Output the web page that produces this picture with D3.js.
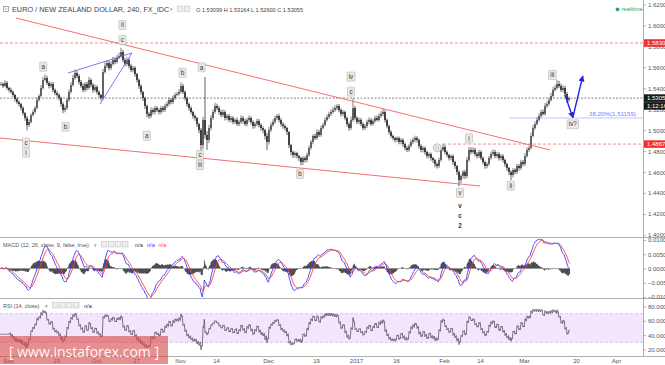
<!DOCTYPE html>
<html><head><meta charset="utf-8">
<script src="https://cdn.jsdelivr.net/npm/d3@7"></script>
<style>
html,body{margin:0;padding:0;background:#fff;overflow:hidden;}
svg{display:block;font-family:"Liberation Sans",Arial,sans-serif;}
</style></head><body>
<svg id="c" width="665" height="365"></svg>
<script>
// ---------- DATA ----------
const firstBarDate = "2016-08-30";   // first visible bar (half-day bars)
const barsPerDay = 2;
const closes = [
1.5440,1.5421,1.5450,1.5402,1.5383,1.5364,1.5335,1.5297,1.5268,1.5249,
1.5211,1.5163,1.5116,1.5049,1.5078,1.5144,1.5173,1.5211,1.5287,1.5326,
1.5402,1.5478,1.5497,1.5450,1.5421,1.5440,1.5383,1.5354,1.5335,1.5306,
1.5249,1.5192,1.5211,1.5287,1.5364,1.5430,1.5497,1.5545,1.5516,1.5459,
1.5421,1.5383,1.5440,1.5402,1.5478,1.5430,1.5383,1.5411,1.5364,1.5335,
1.5306,1.5554,1.5612,1.5640,1.5593,1.5631,1.5669,1.5650,1.5688,1.5707,
1.5745,1.5669,1.5631,1.5669,1.5612,1.5573,1.5593,1.5535,1.5478,1.5421,
1.5364,1.5306,1.5230,1.5154,1.5135,1.5192,1.5173,1.5211,1.5192,1.5173,
1.5211,1.5192,1.5230,1.5249,1.5287,1.5268,1.5306,1.5335,1.5345,1.5364,
1.5421,1.5364,1.5306,1.5249,1.5211,1.5173,1.5135,1.5116,1.5058,1.5001,
1.4858,1.5097,1.4954,1.4906,1.5020,1.5116,1.5173,1.5230,1.5211,1.5173,
1.5144,1.5173,1.5116,1.5135,1.5097,1.5116,1.5078,1.5097,1.5058,1.5078,
1.5116,1.5087,1.5058,1.5097,1.5116,1.5078,1.5039,1.5058,1.5087,1.5049,
1.5020,1.5001,1.4944,1.4887,1.5001,1.5049,1.5078,1.5116,1.5135,1.5097,
1.5058,1.5039,1.5020,1.4982,1.4858,1.4791,1.4763,1.4782,1.4753,1.4734,
1.4696,1.4734,1.4715,1.4763,1.4830,1.4887,1.4944,1.4925,1.4982,1.4954,
1.5020,1.5049,1.5097,1.5125,1.5154,1.5173,1.5192,1.5211,1.5230,1.5192,
1.5154,1.5173,1.5116,1.5058,1.5020,1.5097,1.5211,1.5116,1.5078,1.5097,
1.5058,1.5020,1.5039,1.5078,1.5097,1.5058,1.5087,1.5116,1.5097,1.5135,
1.5154,1.5173,1.5097,1.5039,1.4982,1.4944,1.4925,1.4906,1.4925,1.4887,
1.4906,1.4868,1.4830,1.4811,1.4849,1.4887,1.4906,1.4925,1.4906,1.4849,
1.4811,1.4830,1.4791,1.4753,1.4772,1.4734,1.4715,1.4677,1.4658,1.4715,
1.4811,1.4839,1.4791,1.4763,1.4734,1.4753,1.4696,1.4658,1.4601,1.4524,
1.4563,1.4601,1.4563,1.4715,1.4811,1.4791,1.4811,1.4772,1.4753,1.4791,
1.4734,1.4696,1.4658,1.4677,1.4734,1.4772,1.4791,1.4753,1.4772,1.4734,
1.4753,1.4715,1.4677,1.4639,1.4601,1.4572,1.4620,1.4601,1.4658,1.4639,
1.4696,1.4677,1.4753,1.4811,1.4830,1.4944,1.5020,1.5058,1.5097,1.5135,
1.5173,1.5154,1.5230,1.5249,1.5287,1.5326,1.5383,1.5402,1.5440,1.5421,
1.5383,1.5402,1.5345,1.5287,1.53055];
// upper / lower shadow of each bar, in pips
const wickUp = [
20,15,25,18,12,22,15,10,18,14, 12,16,10,20,25,15,22,18,24,16,
28,30,35,20,15,22,18,14,20,16, 12,18,24,20,25,30,28,35,22,18,
20,26,18,22,30,16,20,24,18,15, 12,30,35,28,20,26,30,22,28,32,
40,20,18,25,15,20,22,16,12,14, 15,12,10,14,18,25,20,22,18,16,
20,18,22,25,20,18,24,22,20,28, 35,20,15,12,14,16,12,15,10,12,
20,30,410,35,30,28,25,30,22,18, 20,24,16,18,22,20,18,16,24,20,
26,18,20,22,24,16,14,20,22,18, 16,14,12,30,28,24,26,22,18,20,
16,18,14,12,10,12,14,16,12,14, 12,18,16,22,24,20,18,22,26,20,
24,20,22,25,22,26,28,24,20,18, 16,20,14,12,18,30,95,20,16,22,
18,16,20,22,24,18,20,22,24,26, 28,30,18,14,12,16,14,12,16,14,
18,16,14,20,22,24,26,22,18,14, 16,18,14,12,16,14,12,10,14,20,
26,30,18,14,12,16,14,12,10,14, 16,18,20,28,30,24,26,20,18,22,
16,14,12,16,20,24,26,20,22,18, 20,16,14,12,10,14,18,16,20,18,
22,20,26,24,22,30,28,24,26,22, 20,24,28,26,24,30,28,26,40,30,
22,26,20,18,14];
const wickDn = [
15,20,12,18,22,16,20,24,18,22, 24,20,26,50,20,16,14,18,12,15,
14,16,12,20,24,18,22,20,16,24, 26,30,22,18,16,14,12,16,22,24,
18,22,20,24,16,22,26,18,24,22, 26,16,14,20,24,18,16,22,14,12,
16,24,22,18,24,20,22,26,24,28, 26,28,30,32,26,20,24,22,20,24,
22,20,18,16,20,22,18,16,14,16, 12,20,22,24,26,22,24,26,28,30,
80,40,35,95,30,22,18,16,20,24, 22,20,24,22,20,24,22,20,18,22,
20,22,18,20,22,24,26,22,20,24, 26,30,34,76,24,20,18,16,18,22,
24,26,24,28,30,32,28,26,24,30, 32,28,24,20,18,16,22,18,16,20,
18,16,14,16,18,20,16,18,20,22, 24,20,22,24,26,18,16,22,20,24,
22,20,18,20,22,18,16,18,14,16, 18,20,24,22,24,20,22,24,20,22,
24,26,22,20,18,16,20,22,24,26, 22,24,26,22,24,26,28,30,24,18,
16,14,20,22,24,22,26,28,30,60, 30,26,28,20,18,20,16,22,24,18,
20,24,26,22,18,16,18,22,20,24, 22,24,26,28,30,48,24,22,20,24,
20,22,18,16,20,14,12,16,14,18, 20,16,14,18,16,14,12,14,16,20,
18,22,24,26,20];

const timeTicks = ["2016-09-01","2016-09-19","2016-10-03","2016-10-17","2016-11-01","2016-11-14","2016-12-01","2016-12-19","2017-01-02","2017-01-16","2017-02-01","2017-02-14","2017-03-01","2017-03-20","2017-04-03"];
const timeTickLabels = ["Sep","19","Oct","17","Nov","14","Dec","19","2017","16","Feb","14","Mar","20","Apr"];
const priceTicks = [1.40,1.42,1.44,1.46,1.48,1.50,1.52,1.54,1.56,1.58,1.60,1.62];
const macdTicks = [0.01,0.005,0,-0.005,-0.01];
const rsiTicks = [80,60,40,20];

const lastPrice = 1.53055, ohlc = ["1.53099","1.53164","1.52600","1.53055"], countdown = "1:12:16";
const resistance = 1.58308, support = 1.48671, supportFrom = 108.75;
const fibLevel = 1.51159, fibFrom = 125.25, fibText = "38.20%(1.51159)";
// trading-day index (since 1 Sep 2016), price
const redTrendLines = [[[2,1.6069],[135.5,1.4811]], [[-2,1.4925],[118,1.4467]]];
const blueWedge = [[[15,1.5545],[31,1.5736]], [[23,1.5249],[31,1.5736]]];
const projection = [[139.25,1.5335],[141.2,1.5120],[143.7,1.5516]];
const waveLabels = [["ii",28.6,1.6003],["c",28.6,1.5860],["a",8.8,1.5605],["b",14.4,1.5033],["c",4.5,1.4880],["i",4.5,1.4785],
 ["b",43.6,1.5548],["a",34.7,1.4947],["a",48.4,1.5599],["c",48,1.4763],["iii",48,1.4667],["b",73,1.4582],
 ["iv",85.75,1.5510],["c",85.75,1.5367],["i",115.25,1.4922],["v",113,1.4403],["ii",125.7,1.4470],["iii",136.1,1.5526],["iv?",141.2,1.5056]];
const plainLabels = [["v",113,1.4277],["c",113,1.4184],["2",113,1.4086]];
const circleMark = [107.3,1.4832];

// ---------- HELPERS ----------
function tdIndex(s){
  const base = Date.UTC(2016,8,1);
  const p = s.split("-").map(Number);
  const target = Date.UTC(p[0],p[1]-1,p[2]);
  let n = 0, cur = new Date(base);
  const step = target >= base ? 1 : -1;
  while (cur.getTime() !== target){
    cur.setUTCDate(cur.getUTCDate()+step);
    const wd = cur.getUTCDay();
    if (wd !== 0 && wd !== 6) n += step;
  }
  return n;
}
const firstDay = tdIndex(firstBarDate);

// ---------- SCALES ----------
const PR = 643;
const x = d3.scaleLinear().domain([-2,158.75]).range([0,PR]);
const y = d3.scaleLinear().domain([1.40,1.62]).range([235,4.3]);
const ym = d3.scaleLinear().domain([-0.01,0.01]).range([297,240]);
const yr = d3.scaleLinear().domain([20,80]).range([349.5,306.5]);

const svg = d3.select("#c");
const defs = svg.append("defs");
defs.append("clipPath").attr("id","cpMain").append("rect").attr("x",0).attr("y",0).attr("width",PR).attr("height",237);
defs.append("clipPath").attr("id","cpMacd").append("rect").attr("x",0).attr("y",237.5).attr("width",PR).attr("height",60.5);
defs.append("clipPath").attr("id","cpRsi").append("rect").attr("x",0).attr("y",298.5).attr("width",PR).attr("height",57.5);
defs.append("clipPath").attr("id","cpAxMain").append("rect").attr("x",-2).attr("y",0).attr("width",40).attr("height",237);
defs.append("marker").attr("id","arr").attr("viewBox","0 0 10 10").attr("refX",9).attr("refY",5)
  .attr("markerWidth",6).attr("markerHeight",6).attr("orient","auto-start-reverse").attr("markerUnits","userSpaceOnUse")
  .append("path").attr("d","M0,0 L10,5 L0,10 z").attr("fill","#2323e8");

// ---------- RSI background ----------
const rsiG = svg.append("g").attr("clip-path","url(#cpRsi)");
rsiG.append("rect").attr("x",0).attr("width",PR).attr("y",yr(70)).attr("height",yr(30)-yr(70)).attr("fill","#f2e6fc");
[70,30].forEach(v=>rsiG.append("line").attr("x1",0).attr("x2",PR).attr("y1",yr(v)).attr("y2",yr(v))
  .attr("stroke","#c4b8cf").attr("stroke-width",0.7).attr("stroke-dasharray","3,2"));

// ---------- MAIN ----------
const main = svg.append("g").attr("clip-path","url(#cpMain)");
const bars = closes.map((c,i)=>{
  const o = i ? closes[i-1] : c;
  return {d:firstDay + i/barsPerDay + 0.25, o, c,
    h:Math.max(o,c)+wickUp[i]/1e4, l:Math.min(o,c)-wickDn[i]/1e4};
});
main.append("line").attr("x1",0).attr("x2",PR).attr("y1",y(resistance)).attr("y2",y(resistance))
  .attr("stroke","#f36b6b").attr("stroke-width",0.8).attr("stroke-dasharray","3,2");
main.append("line").attr("x1",x(supportFrom)).attr("x2",PR).attr("y1",y(support)).attr("y2",y(support))
  .attr("stroke","#f36b6b").attr("stroke-width",0.8).attr("stroke-dasharray","3,2");
main.append("line").attr("x1",0).attr("x2",PR).attr("y1",y(lastPrice)).attr("y2",y(lastPrice))
  .attr("stroke","#555").attr("stroke-width",0.7).attr("stroke-dasharray","2,1.5");
main.append("line").attr("x1",x(fibFrom)).attr("x2",PR).attr("y1",y(fibLevel)).attr("y2",y(fibLevel))
  .attr("stroke","#b4b4ff").attr("stroke-width",0.8);
main.append("text").attr("x",636).attr("y",y(fibLevel)-1.5).attr("text-anchor","end")
  .attr("font-size",6.2).attr("fill","#7a7aff").text(fibText);
// candles
const cg = main.append("g");
cg.selectAll("line").data(bars).join("line")
  .attr("x1",d=>x(d.d)).attr("x2",d=>x(d.d)).attr("y1",d=>y(d.h)).attr("y2",d=>y(d.l))
  .attr("stroke",d=>d.c>=d.o?"#444":"#1c1c1c").attr("stroke-width",0.7);
cg.selectAll("rect").data(bars).join("rect")
  .attr("x",d=>x(d.d)-0.75).attr("width",1.5)
  .attr("y",d=>y(Math.max(d.o,d.c))).attr("height",d=>Math.max(0.8,y(Math.min(d.o,d.c))-y(Math.max(d.o,d.c))))
  .attr("fill",d=>d.c>=d.o?"#444":"#1c1c1c");
// trend lines
const ln = d3.line().x(d=>x(d[0])).y(d=>y(d[1]));
redTrendLines.forEach(l=>main.append("path").attr("d",ln(l)).attr("fill","none").attr("stroke","#f26060").attr("stroke-width",0.9));
blueWedge.forEach(l=>main.append("path").attr("d",ln(l)).attr("fill","none").attr("stroke","#6b6bf5").attr("stroke-width",0.9));
main.append("path").attr("d",ln([projection[0],projection[1]])).attr("fill","none").attr("stroke","#2323e8").attr("stroke-width",1.4).attr("marker-end","url(#arr)");
main.append("path").attr("d",ln([projection[1],projection[2]])).attr("fill","none").attr("stroke","#2323e8").attr("stroke-width",1.4).attr("marker-end","url(#arr)");
// wave labels
waveLabels.forEach(([t,d,p])=>{
  const g = main.append("g").attr("transform",`translate(${x(d)},${y(p)})`);
  const r = g.append("rect").attr("fill","#e9e9e9").attr("stroke","#b5b5b5").attr("stroke-width",0.6).attr("rx",0.5);
  const tx = g.append("text").attr("text-anchor","middle").attr("dy","0.35em").attr("font-size",6.3).attr("fill","#333").text(t);
  const w = Math.max(7, tx.node().getComputedTextLength()+3.5);
  r.attr("x",-w/2).attr("y",-4.5).attr("width",w).attr("height",9);
});
plainLabels.forEach(([t,d,p])=>main.append("text").attr("x",x(d)).attr("y",y(p)).attr("dy","0.35em")
  .attr("text-anchor","middle").attr("font-size",6.3).attr("font-weight","bold").attr("fill","#333").text(t));
main.append("circle").attr("cx",x(circleMark[0])).attr("cy",y(circleMark[1])).attr("r",4).attr("fill","#eee").attr("stroke","#aaa").attr("stroke-width",0.7);
main.append("circle").attr("cx",x(circleMark[0])).attr("cy",y(circleMark[1])).attr("r",1.6).attr("fill","none").attr("stroke","#aaa").attr("stroke-width",0.6);

// ---------- INDICATORS (three 4h steps inside each half-day bar) ----------
const sub = [];
bars.forEach(b=>{
  const path = b.c >= b.o ? [(b.o+b.l)/2,(b.h+b.c)/2,b.c] : [(b.o+b.h)/2,(b.l+b.c)/2,b.c];
  path.forEach((v,k)=>sub.push({d:b.d + (k-1)/6, v}));
});
const subC = sub.map(s=>s.v);
function ema(vals,n){ const a = 2/(n+1); let e = vals[0]; return vals.map(v=>(e = e + a*(v-e))); }
const fast = ema(subC,12), slow = ema(subC,26);
const macd = fast.map((f,i)=>f-slow[i]);
const signal = ema(macd,9);
const hist = macd.map((m,i)=>m-signal[i]);
const mg = svg.append("g").attr("clip-path","url(#cpMacd)");
mg.selectAll("rect").data(hist).join("rect")
  .attr("x",(d,i)=>x(sub[i].d)-0.35).attr("width",0.7)
  .attr("y",d=>Math.min(ym(d),ym(0))).attr("height",d=>Math.max(0.4,Math.abs(ym(d)-ym(0))))
  .attr("fill","#222");
const lm = d3.line().x((d,i)=>x(sub[i].d)).y(d=>ym(d));
mg.append("path").attr("d",lm(macd)).attr("fill","none").attr("stroke","#3a3aff").attr("stroke-width",0.9);
mg.append("path").attr("d",lm(signal)).attr("fill","none").attr("stroke","#ff3a3a").attr("stroke-width",0.9);

const N = 14;
let ag = 0, al = 0;
for (let i=1;i<=N;i++){ const d = subC[i]-subC[i-1]; ag += Math.max(d,0)/N; al += Math.max(-d,0)/N; }
const rsi = subC.map((c,i)=>{
  if (i>N){ const d = c-subC[i-1]; ag = (ag*(N-1)+Math.max(d,0))/N; al = (al*(N-1)+Math.max(-d,0))/N; }
  return al===0 ? 100 : 100-100/(1+ag/al);
});
const lr = d3.line().x((d,i)=>x(sub[i].d)).y(d=>yr(d));
rsiG.append("path").attr("d",lr(rsi)).attr("fill","none").attr("stroke","#4a4058").attr("stroke-width",0.7);

// ---------- FRAMES ----------
[237.5,298.5,356.5].forEach(v=>svg.append("line").attr("x1",0).attr("x2",665).attr("y1",v).attr("y2",v).attr("stroke","#9a9a9a").attr("stroke-width",0.8));
svg.append("line").attr("x1",PR+0.5).attr("x2",PR+0.5).attr("y1",0).attr("y2",356.5).attr("stroke","#9a9a9a").attr("stroke-width",0.8);

// ---------- AXES ----------
function styleAxis(g){
  g.select(".domain").remove();
  g.selectAll(".tick line").attr("stroke","#888").attr("stroke-width",0.6);
  g.selectAll(".tick text").attr("fill","#555").attr("font-size",6).attr("font-family","Liberation Sans, Arial, sans-serif");
}
svg.append("g").attr("transform",`translate(${PR},0)`).attr("clip-path","url(#cpAxMain)")
  .call(d3.axisRight(y).tickValues(priceTicks).tickFormat(d3.format(".5f")).tickSize(3).tickPadding(2)).call(styleAxis);
svg.append("g").attr("transform",`translate(${PR},0)`)
  .call(d3.axisRight(ym).tickValues(macdTicks).tickFormat(d3.format(".4f")).tickSize(3).tickPadding(2)).call(styleAxis);
svg.append("g").attr("transform",`translate(${PR},0)`)
  .call(d3.axisRight(yr).tickValues(rsiTicks).tickFormat(d3.format(".4f")).tickSize(3).tickPadding(2)).call(styleAxis);
svg.append("g").attr("transform","translate(0,356)")
  .call(d3.axisBottom(x).tickValues(timeTicks.map(tdIndex)).tickFormat((d,i)=>timeTickLabels[i]).tickSize(0).tickPadding(2.5)).call(styleAxis);

function tag(p,txt,fill,dy){
  const cy = y(p)+(dy||0);
  svg.append("rect").attr("x",PR+1).attr("y",cy-3.8).attr("width",665-PR).attr("height",7.6).attr("fill",fill);
  svg.append("text").attr("x",PR+4).attr("y",cy).attr("dy","0.35em").attr("font-size",6).attr("fill","#fff").text(txt);
}
tag(resistance,d3.format(".5f")(resistance),"#f23030");
tag(support,d3.format(".5f")(support),"#f23030");
tag(lastPrice,d3.format(".5f")(lastPrice),"#1a1a1a");
tag(lastPrice,countdown,"#1a1a1a",7.8);

// ---------- LEGENDS ----------
const hdr = svg.append("g");
hdr.append("rect").attr("x",3.5).attr("y",6.5).attr("width",5).attr("height",5).attr("fill","none").attr("stroke","#777").attr("stroke-width",0.6);
hdr.append("line").attr("x1",4.7).attr("x2",7.3).attr("y1",9).attr("y2",9).attr("stroke","#777").attr("stroke-width",0.6);
hdr.append("text").attr("x",12).attr("y",12).attr("font-size",7.3).attr("fill","#444").text("EURO / NEW ZEALAND DOLLAR, 240, FX_IDC");
hdr.append("text").attr("x",170).attr("y",11).attr("font-size",5).attr("fill","#999").text("▾");
[177.5,184.5].forEach(v=>hdr.append("rect").attr("x",v).attr("y",6).attr("width",5.5).attr("height",5.5).attr("fill","#eee").attr("stroke","#bbb").attr("stroke-width",0.5));
hdr.append("text").attr("x",196).attr("y",11.5).attr("font-size",5.6).attr("fill","#444")
  .text(`O ${ohlc[0]}  H ${ohlc[1]}  L ${ohlc[2]}  C ${ohlc[3]}`);
svg.append("circle").attr("cx",617.5).attr("cy",9.3).attr("r",1.9).attr("fill","#33a06a");
svg.append("text").attr("x",621.5).attr("y",11.3).attr("font-size",6).attr("fill","#33a06a").text("realtime");

const mLeg = svg.append("g");
mLeg.append("text").attr("x",3).attr("y",246.8).attr("font-size",5.5).attr("fill","#555").text("MACD (12, 26, close, 9, false, true)");
mLeg.append("text").attr("x",94).attr("y",246.5).attr("font-size",5).attr("fill","#999").text("▾");
[101.5,108.5,115.5,122.5].forEach(v=>mLeg.append("rect").attr("x",v).attr("y",241.5).attr("width",5.5).attr("height",5.5).attr("fill","#eee").attr("stroke","#bbb").attr("stroke-width",0.5));
[["n/a","#333",135],["n/a","#3a3aff",147],["n/a","#ff3a3a",158.5]].forEach(([t,c,xx])=>mLeg.append("text").attr("x",xx).attr("y",246.8).attr("font-size",5.6).attr("fill",c).text(t));

const rLeg = svg.append("g");
rLeg.append("text").attr("x",3).attr("y",307.8).attr("font-size",5.5).attr("fill","#555").text("RSI (14, close)");
rLeg.append("text").attr("x",45).attr("y",307.5).attr("font-size",5).attr("fill","#999").text("▾");
[52.5,59.5,66.5,73.5].forEach(v=>rLeg.append("rect").attr("x",v).attr("y",302.5).attr("width",5.5).attr("height",5.5).attr("fill","#eee").attr("stroke","#bbb").attr("stroke-width",0.5));
rLeg.append("text").attr("x",84).attr("y",307.8).attr("font-size",5.6).attr("fill","#333").text("n/a");

// ---------- WATERMARK ----------
svg.append("rect").attr("x",0).attr("y",336).attr("width",168).attr("height",28).attr("fill","rgba(216,72,72,0.62)");
svg.append("text").attr("x",9).attr("y",357).attr("font-size",15).attr("font-family","Open Sans, sans-serif")
  .attr("fill","rgba(255,255,255,0.95)").attr("textLength",150).attr("lengthAdjust","spacingAndGlyphs").text("[ www.instaforex.com ]");
</script>
</body></html>
